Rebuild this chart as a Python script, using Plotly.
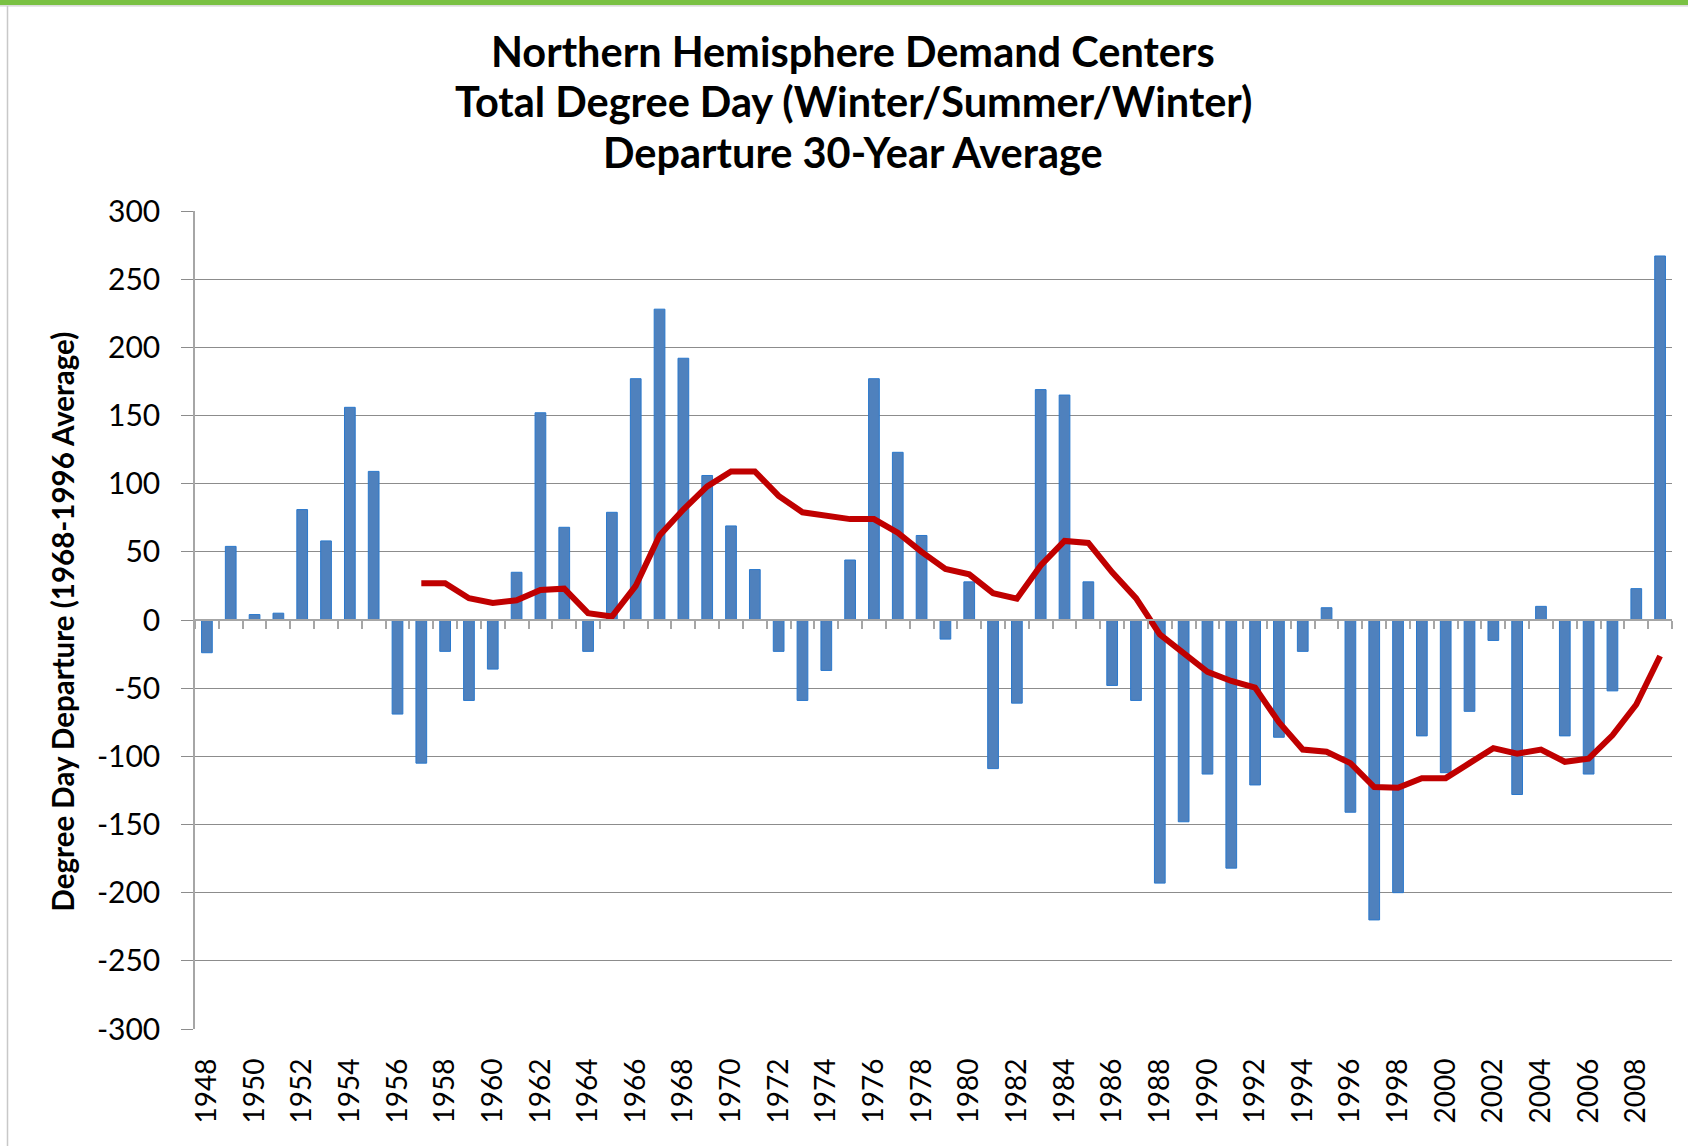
import plotly.graph_objects as go

years = list(range(1948, 2010))
departure = [-24, 54, 4, 5, 81, 58, 156, 109, -69, -105,
             -23, -59, -36, 35, 152, 68, -23, 79, 177, 228,
             192, 106, 69, 37, -23, -59, -37, 44, 177, 123,
             62, -14, 28, -109, -61, 169, 165, 28, -48, -59,
             -193, -148, -113, -182, -121, -86, -23, 9, -141, -220,
             -200, -85, -112, -67, -15, -128, 10, -85, -113, -52,
             23, 267]
moving_avg = [None] * 9 + [27, 27, 16, 12.5, 14.5, 22, 23, 5, 2.5, 25,
              62, 81, 98, 109, 109, 91, 79, 77, 74, 74,
              64, 50, 37.5, 33.5, 19.7, 15.7, 40, 58, 56.5, 35,
              16, -10.5, -24.4, -38, -44.7, -49.6, -75, -95, -96.6, -105,
              -122.5, -123, -116, -116, -105, -94, -98, -95, -104, -101.7,
              -84.6, -62, -26.4]
y_ticks = list(range(-300, 301, 50))
x_ticks = years[::2]

title_lines = ["Northern Hemisphere Demand Centers",
               "Total Degree Day (Winter/Summer/Winter)",
               "Departure 30-Year Average"]
y_title = "Degree Day Departure (1968-1996 Average)"

y_min, y_max = -300, 300
W, H = 1688, 1146
ml, mr, mt, mb = 195, 16, 211, 117
pw, ph = W - ml - mr, H - mt - mb


def px_x(x):
    return (x - ml) / pw


def px_y(y):
    return (H - mb - y) / ph


fig = go.Figure()
fig.add_trace(go.Bar(
    x=years, y=departure, name="Departure",
    marker=dict(color="#4f81bd", line=dict(color="#2a78cc", width=1)),
    showlegend=False,
))
fig.add_trace(go.Scatter(
    x=years, y=moving_avg, mode="lines", name="Moving average",
    line=dict(color="#c00000", width=6), connectgaps=False,
    showlegend=False,
))
# helper trace so the category axis drawn at zero exists
fig.add_trace(go.Scatter(x=[years[0]], y=[None], xaxis="x2", mode="lines",
                         showlegend=False, hoverinfo="skip"))

boundaries = [y - 0.5 for y in years] + [years[-1] + 0.5]
xr = [years[0] - 0.5, years[-1] + 0.5]

title_y = [50.6, 101.2, 151.8]
annotations = [
    dict(text="<b>%s</b>" % t, xref="paper", yref="paper",
         x=px_x(853), y=px_y(yy), xanchor="center", yanchor="middle",
         showarrow=False, font=dict(size=41.5, family="Lato, sans-serif", color="black"))
    for t, yy in zip(title_lines, title_y)
]
annotations.append(dict(
    text="<b>%s</b>" % y_title, xref="paper", yref="paper",
    x=px_x(61.5), y=px_y(622), xanchor="center", yanchor="middle",
    textangle=-90, showarrow=False,
    font=dict(size=29.5, family="Lato, sans-serif", color="black"),
))

fig.update_layout(
    width=W, height=H,
    margin=dict(l=ml, r=mr, t=mt, b=mb),
    paper_bgcolor="white", plot_bgcolor="white",
    bargap=0.55,
    font=dict(family="Lato, Open Sans, sans-serif", color="black"),
    xaxis=dict(
        range=xr, tickmode="array", tickvals=x_ticks,
        ticktext=[str(v) for v in x_ticks], tickangle=-90,
        ticks="", showgrid=False, zeroline=False, showline=False,
        tickfont=dict(size=28, family="Lato, sans-serif"),
        ticklabelstandoff=23,
    ),
    xaxis2=dict(
        overlaying="x", matches="x", anchor="free",
        position=(0 - y_min) / (y_max - y_min),
        showline=True, linecolor="#a6a6a6", linewidth=1.5,
        tickmode="array", tickvals=boundaries, ticks="outside",
        ticklen=8, tickcolor="#a6a6a6", tickwidth=1.5,
        showticklabels=False, showgrid=False, zeroline=False,
    ),
    yaxis=dict(
        range=[y_min, y_max], tickmode="array", tickvals=y_ticks,
        ticktext=[str(v) for v in y_ticks],
        showgrid=True, gridcolor="#8c8c8c", gridwidth=1.2,
        zeroline=False, showline=True, linecolor="#a6a6a6", linewidth=1.5,
        ticks="outside", ticklen=12, tickcolor="#8c8c8c", tickwidth=1.2,
        tickfont=dict(size=30, family="Lato, sans-serif"),
        ticklabelstandoff=15,
    ),
    annotations=annotations,
    shapes=[
        dict(type="rect", xref="paper", yref="paper",
             x0=px_x(0), x1=px_x(W), y0=px_y(5), y1=px_y(0),
             fillcolor="#7ac143", line=dict(width=0), layer="above"),
        dict(type="line", xref="paper", yref="paper",
             x0=px_x(0), x1=px_x(W), y0=px_y(5.8), y1=px_y(5.8),
             line=dict(color="#d0d0d0", width=1.2)),
        dict(type="line", xref="paper", yref="paper",
             x0=px_x(7.5), x1=px_x(7.5), y0=px_y(H), y1=px_y(6),
             line=dict(color="#c8c8c8", width=1.5)),
    ],
)

fig.write_html("out.html", config={"displayModeBar": False},
               post_script="document.body.style.margin='0px';")
